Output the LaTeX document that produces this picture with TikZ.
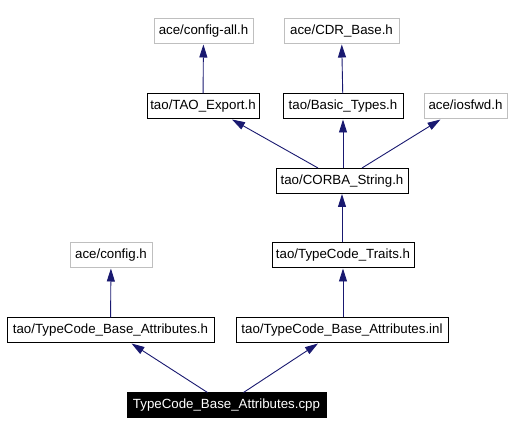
\documentclass[tikz,border=0pt]{standalone}
\usepackage{fontspec}
\setmainfont{Liberation Sans}
\usepackage{tikz}
\usetikzlibrary{arrows.meta}
\definecolor{edgeblue}{HTML}{191970}
\definecolor{extgray}{HTML}{BFBFBF}
\tikzset{
  file/.style={draw=black, line width=1pt, inner sep=0pt, minimum height=25pt,
    text height=9.6pt, text depth=2.6pt, font=\fontsize{13.3}{16}\selectfont},
  extfile/.style={file, draw=extgray},
  srcfile/.style={file, fill=black, text=white, minimum height=24pt},
  dep/.style={draw=edgeblue, line width=0.9pt,
    -{Triangle[length=13pt,width=8pt]}, edgeblue}
}
\newcommand{\hfile}[5]{\node[file, minimum width=#4pt] (#1) at (#2,#3) {#5};}
\newcommand{\xfile}[5]{\node[extfile, minimum width=#4pt] (#1) at (#2,#3) {#5};}
\begin{document}
\begin{tikzpicture}[x=1pt,y=-1pt]
        \useasboundingbox (0,0) rectangle (514,435);
        % row1
        \xfile{configall}{203.5}{31.5}{99}{ace/config-all.h}
        \xfile{cdrbase}{341.5}{31.5}{115}{ace/CDR\_Base.h}
        % row2
        \hfile{taoexport}{203}{106.5}{112}{tao/TAO\_Export.h}
        \hfile{basictypes}{343}{106.5}{120}{tao/Basic\_Types.h}
        \xfile{iosfwd}{465.5}{106.5}{83}{ace/iosfwd.h}
        % row3
        \hfile{corbastring}{342}{181}{132}{tao/CORBA\_String.h}
        % row4
        \xfile{config}{111}{255.5}{82}{ace/config.h}
        \hfile{traits}{343}{255.5}{142}{tao/TypeCode\_Traits.h}
        % row5
        \hfile{attrh}{110.5}{330.5}{207}{tao/TypeCode\_Base\_Attributes.h}
        \hfile{attrinl}{342}{330.5}{212}{tao/TypeCode\_Base\_Attributes.inl}
        % row6
        \node[srcfile, minimum width=199pt] (cpp) at (226.5,405) {TypeCode\_Base\_Attributes.cpp};
        % edges
        \draw[dep] (taoexport) -- (configall);
        \draw[dep] (basictypes) -- (cdrbase);
        \draw[dep] ([xshift=-24pt]corbastring.north) -- ([xshift=29pt]taoexport.south);
        \draw[dep] (corbastring.north -| basictypes) -- (basictypes);
        \draw[dep] ([xshift=20pt]corbastring.north) -- ([xshift=-25pt]iosfwd.south);
        \draw[dep] (traits.north -| corbastring) -- (corbastring);
        \draw[dep] (attrh) -- (config);
        \draw[dep] (attrinl.north -| traits) -- (traits);
        \draw[dep] ([xshift=-19pt]cpp.north) -- ([xshift=21pt]attrh.south);
        \draw[dep] ([xshift=17pt]cpp.north) -- ([xshift=-24pt]attrinl.south);
\end{tikzpicture}
\end{document}
